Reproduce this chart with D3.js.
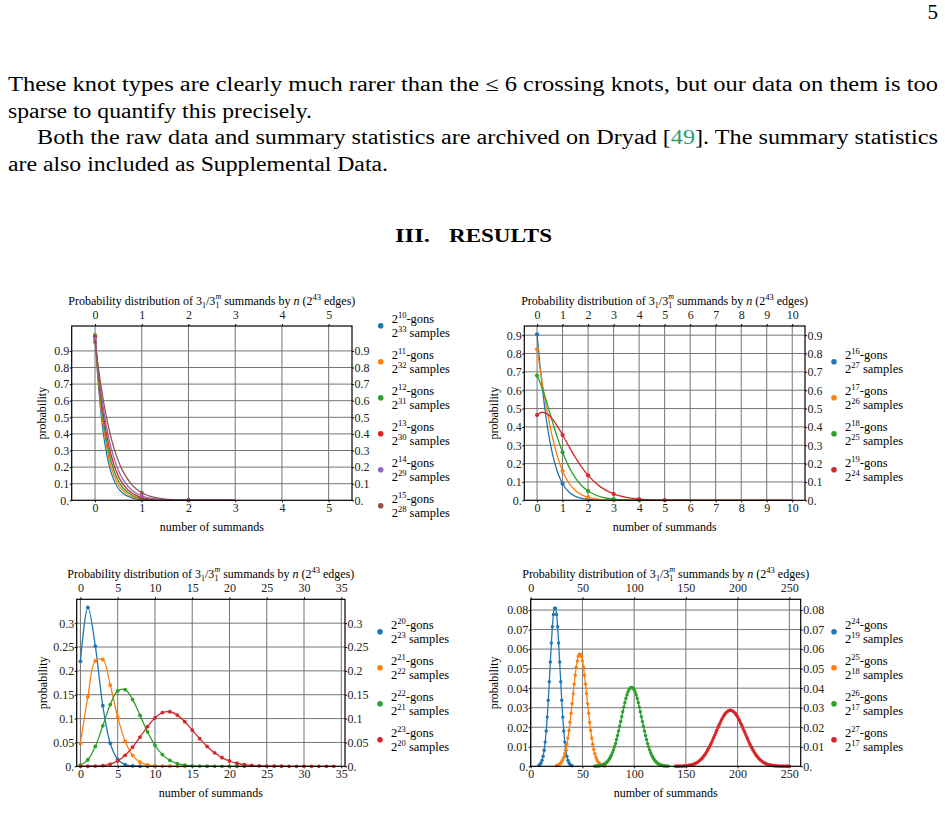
<!DOCTYPE html>
<html>
<head>
<meta charset="utf-8">
<script src="https://cdn.jsdelivr.net/npm/d3@7"></script>
<style>
  body { margin: 0; background: #fff; }
  svg { display: block; }
  svg text { font-family: "Liberation Serif", "Times New Roman", serif; }
</style>
</head>
<body>
<svg id="page" width="945" height="833"></svg>
<script>
// ---- data: panel 1 (2^10 .. 2^15 gons) ----
const p1XTicks = [0, 1, 2, 3, 4, 5];
const p1YTicks = [0, 0.1, 0.2, 0.3, 0.4, 0.5, 0.6, 0.7, 0.8, 0.9];
const p1Gons = ["10", "11", "12", "13", "14", "15"];
const p1Samples = ["33", "32", "31", "30", "29", "28"];
// measured points at n = 0, 1, 2
const p1Dots = [
  [0.996, 0.0040, 0.00001],
  [0.993, 0.0070, 0.00002],
  [0.989, 0.0109, 0.00006],
  [0.983, 0.0167, 0.00014],
  [0.973, 0.0263, 0.00036],
  [0.953, 0.0457, 0.0011]
];
// fitted curve
const p1CurveX = [0, 0.05, 0.1, 0.15, 0.2, 0.3, 0.4, 0.5, 0.6, 0.8, 1, 1.25, 1.5, 2, 2.5, 3];
const p1Curves = [
  [0.996, 0.776, 0.603, 0.466, 0.360, 0.212, 0.123, 0.0711, 0.0406, 0.0129, 0.0040, 0.0009, 0.0002, 0.00001, 0, 0],
  [0.993, 0.796, 0.636, 0.506, 0.401, 0.250, 0.154, 0.0938, 0.0566, 0.0201, 0.0070, 0.0018, 0.0004, 0.00002, 0, 0],
  [0.989, 0.811, 0.662, 0.539, 0.437, 0.285, 0.183, 0.117, 0.074, 0.0288, 0.0109, 0.0031, 0.0009, 0.00006, 0, 0],
  [0.983, 0.824, 0.687, 0.572, 0.474, 0.323, 0.217, 0.145, 0.0954, 0.0405, 0.0167, 0.0053, 0.0016, 0.00014, 0.00003, 0],
  [0.973, 0.835, 0.713, 0.607, 0.515, 0.367, 0.259, 0.180, 0.125, 0.0581, 0.0263, 0.0094, 0.0033, 0.00036, 0.00009, 0],
  [0.953, 0.841, 0.739, 0.648, 0.565, 0.427, 0.319, 0.236, 0.1725, 0.0902, 0.0457, 0.0189, 0.0075, 0.0011, 0.0004, 0.00002]
];

// ---- data: panel 2 (2^16 .. 2^19 gons) ----
const p2XTicks = [0, 1, 2, 3, 4, 5, 6, 7, 8, 9, 10];
const p2YTicks = [0, 0.1, 0.2, 0.3, 0.4, 0.5, 0.6, 0.7, 0.8, 0.9];
const p2Gons = ["16", "17", "18", "19"];
const p2Samples = ["27", "26", "25", "24"];
const p2Dots = [
  [0.905, 0.0905, 0.0045],
  [0.823, 0.160, 0.0156, 0.0010],
  [0.680, 0.262, 0.0504, 0.0065, 0.0006],
  [0.465, 0.356, 0.136, 0.0347, 0.0066, 0.0010]
];
const p2CurveX = [0, 0.2, 0.4, 0.6, 0.8, 1, 1.25, 1.5, 1.75, 2, 2.5, 3, 3.5, 4, 5, 6, 8, 10];
const p2Curves = [
  [0.905, 0.622, 0.406, 0.254, 0.154, 0.0905, 0.0449, 0.0215, 0.0100, 0.0045, 0.0009, 0.00015, 0.00002, 0, 0, 0, 0, 0],
  [0.823, 0.646, 0.482, 0.345, 0.239, 0.160, 0.094, 0.0533, 0.0293, 0.0156, 0.0042, 0.0010, 0.0002, 0.00005, 0, 0, 0, 0],
  [0.680, 0.612, 0.524, 0.430, 0.340, 0.262, 0.182, 0.122, 0.0796, 0.0504, 0.0188, 0.0065, 0.0021, 0.0006, 0.00005, 0, 0, 0],
  [0.465, 0.480, 0.471, 0.4435, 0.403, 0.356, 0.294, 0.234, 0.181, 0.136, 0.0717, 0.0347, 0.0157, 0.0066, 0.0010, 0.00013, 0, 0]
];

// ---- data: panel 3 (2^20 .. 2^23 gons), n = 0, 1, 2, ... ----
const p3XTicks = [0, 5, 10, 15, 20, 25, 30, 35];
const p3YTicks = [0, 0.05, 0.1, 0.15, 0.2, 0.25, 0.3];
const p3Gons = ["20", "21", "22", "23"];
const p3Samples = ["23", "22", "21", "20"];
const p3Dots = [
  [0.220, 0.333, 0.252, 0.127, 0.0483, 0.0146, 0.0037, 0.0008, 0.00015, 0.00003, 0],
  [0.0478, 0.1453, 0.2209, 0.2238, 0.1701, 0.1034, 0.0524, 0.0228, 0.0087, 0.0029, 0.0009, 0.0002, 0.00006, 0.00001, 0],
  [0.0022, 0.0137, 0.0417, 0.0849, 0.1294, 0.1579, 0.1605, 0.1399, 0.1067, 0.0723, 0.0441, 0.0245, 0.0124, 0.0058,
   0.0025, 0.0010, 0.0004, 0.0001, 0.00005, 0, 0, 0, 0],
  [0.000005, 0.00006, 0.0004, 0.0015, 0.0047, 0.0113, 0.0231, 0.0402, 0.0613, 0.0831, 0.1014, 0.1124, 0.1143, 0.1073,
   0.0935, 0.0760, 0.0580, 0.0416, 0.0282, 0.0181, 0.0111, 0.0064, 0.0036, 0.0019, 0.0010, 0.0005, 0.0002, 0.0001,
   0.00004, 0.00002, 0.00001, 0, 0, 0, 0]
];

// ---- data: panel 4 (2^24 .. 2^27 gons), first n of each run + values ----
const p4XTicks = [0, 50, 100, 150, 200, 250];
const p4YTicks = [0, 0.01, 0.02, 0.03, 0.04, 0.05, 0.06, 0.07, 0.08];
const p4Gons = ["24", "25", "26", "27"];
const p4Samples = ["19", "18", "17", "17"];
const p4Start = [8, 25, 62, 140];
const p4Dots = [
  [0.0005, 0.0010, 0.0018, 0.0031, 0.0052, 0.0082, 0.0124, 0.0181, 0.0252, 0.0338, 0.0433, 0.0534, 0.0631, 0.0715,
   0.0777, 0.0810, 0.0810, 0.0777, 0.0715, 0.0631, 0.0534, 0.0433, 0.0338, 0.0252, 0.0181, 0.0124, 0.0082, 0.0052,
   0.0031, 0.0018, 0.0010, 0.0005, 0.0003],
  [0.0003, 0.0005, 0.0007, 0.0011, 0.0016, 0.0024, 0.0034, 0.0047, 0.0064, 0.0086, 0.0113, 0.0145, 0.0183, 0.0225,
   0.0271, 0.0321, 0.0371, 0.0420, 0.0466, 0.0507, 0.0540, 0.0563, 0.0574, 0.0574, 0.0563, 0.0540, 0.0507, 0.0466,
   0.0420, 0.0371, 0.0321, 0.0271, 0.0225, 0.0183, 0.0145, 0.0113, 0.0086, 0.0064, 0.0047, 0.0034, 0.0024, 0.0016,
   0.0011, 0.0007, 0.0005, 0.0003, 0.0002, 0.0001],
  [0.0001, 0.0001, 0.0001, 0.0002, 0.0002, 0.0003, 0.0005, 0.0006, 0.0008, 0.0011, 0.0014, 0.0018, 0.0023, 0.0030,
   0.0037, 0.0046, 0.0057, 0.0069, 0.0084, 0.0100, 0.0117, 0.0137, 0.0158, 0.0181, 0.0205, 0.0229, 0.0254, 0.0279,
   0.0303, 0.0326, 0.0347, 0.0365, 0.0380, 0.0392, 0.0400, 0.0404, 0.0404, 0.0400, 0.0392, 0.0380, 0.0365, 0.0347,
   0.0326, 0.0303, 0.0279, 0.0254, 0.0229, 0.0205, 0.0181, 0.0158, 0.0137, 0.0117, 0.0100, 0.0084, 0.0069, 0.0057,
   0.0046, 0.0037, 0.0030, 0.0023, 0.0018, 0.0014, 0.0011, 0.0008, 0.0006, 0.0005, 0.0003, 0.0002, 0.0002, 0.0001,
   0.0001, 0.0001],
  [0, 0, 0, 0, 0.0001, 0.0001, 0.0001, 0.0001, 0.0002, 0.0002, 0.0002, 0.0003, 0.0004, 0.0005, 0.0006, 0.0007,
   0.0008, 0.0010, 0.0012, 0.0014, 0.0017, 0.0020, 0.0024, 0.0028, 0.0032, 0.0038, 0.0043, 0.0050, 0.0057, 0.0065,
   0.0073, 0.0082, 0.0092, 0.0102, 0.0113, 0.0124, 0.0136, 0.0148, 0.0160, 0.0173, 0.0185, 0.0198, 0.0210, 0.0221,
   0.0233, 0.0243, 0.0253, 0.0261, 0.0269, 0.0275, 0.0280, 0.0284, 0.0286, 0.0287, 0.0286, 0.0284, 0.0280, 0.0275,
   0.0269, 0.0261, 0.0253, 0.0243, 0.0233, 0.0221, 0.0210, 0.0198, 0.0185, 0.0173, 0.0160, 0.0148, 0.0136, 0.0124,
   0.0113, 0.0102, 0.0092, 0.0082, 0.0073, 0.0065, 0.0057, 0.0050, 0.0043, 0.0038, 0.0032, 0.0028, 0.0024, 0.0020,
   0.0017, 0.0014, 0.0012, 0.0010, 0.0008, 0.0007, 0.0006, 0.0005, 0.0004, 0.0003, 0.0002, 0.0002, 0.0002, 0.0001,
   0.0001, 0.0001, 0.0001, 0.0001, 0, 0, 0, 0, 0, 0, 0]
];

const colors = d3.schemeCategory10;
const svg = d3.select("#page");

// ---- page text ----
function line(x, y, w, str) {
  return svg.append("text").attr("x", x).attr("y", y).attr("font-size", 20.5)
    .attr("textLength", w).attr("lengthAdjust", "spacingAndGlyphs").text(str);
}
svg.append("text").attr("x", 938).attr("y", 19).attr("text-anchor", "end")
  .attr("font-size", 21).text("5");
line(8, 91, 930, "These knot types are clearly much rarer than the \u2264 6 crossing knots, but our data on them is too");
line(8, 117.5, 304, "sparse to quantify this precisely.");
const l3 = svg.append("text").attr("x", 37).attr("y", 144).attr("font-size", 20.5)
  .attr("textLength", 901).attr("lengthAdjust", "spacingAndGlyphs");
l3.append("tspan").text("Both the raw data and summary statistics are archived on Dryad [");
l3.append("tspan").attr("fill", "#2e9c6a").text("49");
l3.append("tspan").text("]. The summary statistics");
line(8, 170.5, 380, "are also included as Supplemental Data.");
svg.append("text").attr("x", 395).attr("y", 241.5).attr("font-size", 19).attr("font-weight", "bold")
  .attr("textLength", 35).attr("lengthAdjust", "spacingAndGlyphs").text("III.");
svg.append("text").attr("x", 449).attr("y", 241.5).attr("font-size", 19).attr("font-weight", "bold")
  .attr("textLength", 103).attr("lengthAdjust", "spacingAndGlyphs").text("RESULTS");

// ---- panels ----
const fmt = d => d === 0 ? "0." : String(+d.toFixed(3));

function addTitle(g, cx, y) {
  const t = g.append("text").attr("x", cx).attr("y", y).attr("text-anchor", "middle").attr("font-size", 12);
  t.append("tspan").text("Probability distribution of 3");
  t.append("tspan").attr("font-size", 8).attr("dy", 3.5).text("1");
  t.append("tspan").attr("dy", -3.5).text("/3");
  t.append("tspan").attr("font-size", 8).attr("dy", 3.5).text("1");
  t.append("tspan").attr("font-size", 8).attr("font-style", "italic").attr("dx", -4).attr("dy", -9.5).text("m");
  t.append("tspan").attr("dy", 6).text(" summands by ");
  t.append("tspan").attr("font-style", "italic").text("n");
  t.append("tspan").text(" (2");
  t.append("tspan").attr("font-size", 8.5).attr("dy", -5).text("43");
  t.append("tspan").attr("dy", 5).text(" edges)");
}

function supText(g, x, y, base, sup, tail) {
  const t = g.append("text").attr("x", x).attr("y", y).attr("font-size", 12.5);
  t.append("tspan").text(base);
  t.append("tspan").attr("font-size", 8.5).attr("dy", -5).text(sup);
  t.append("tspan").attr("dy", 5).text(tail);
}

function drawPanel(p, idx) {
  const g = svg.append("g");
  const x = d3.scaleLinear().domain(p.xDomain).range([p.left, p.right]);
  const y = d3.scaleLinear().domain(p.yDomain).range([p.bottom, p.top]);

  // grid
  g.append("g").selectAll("line").data(p.xTicks).join("line")
    .attr("x1", d => x(d)).attr("x2", d => x(d)).attr("y1", p.top).attr("y2", p.bottom)
    .attr("stroke", "#747474").attr("stroke-width", 1);
  g.append("g").selectAll("line").data(p.yTicks.filter(d => d > 0)).join("line")
    .attr("x1", p.left).attr("x2", p.right).attr("y1", d => y(d)).attr("y2", d => y(d))
    .attr("stroke", "#747474").attr("stroke-width", 1);

  // axes on all four sides
  const axes = [
    [d3.axisBottom(x).tickValues(p.xTicks).tickFormat(d3.format("d")).tickSize(2).tickPadding(1), `translate(0,${p.bottom})`],
    [d3.axisTop(x).tickValues(p.xTicks).tickFormat(d3.format("d")).tickSize(2).tickPadding(5), `translate(0,${p.top})`],
    [d3.axisLeft(y).tickValues(p.yTicks).tickFormat(fmt).tickSize(2).tickPadding(0.5), `translate(${p.left},0)`],
    [d3.axisRight(y).tickValues(p.yTicks).tickFormat(fmt).tickSize(2).tickPadding(0.5), `translate(${p.right},0)`]
  ];
  axes.forEach(([ax, tr]) => {
    const a = g.append("g").attr("transform", tr).call(ax);
    a.attr("font-family", null).attr("font-size", 12);
    a.select(".domain").remove();
    a.selectAll("text").attr("fill", "#222");
  });

  // series
  const clipId = "clip" + idx;
  g.append("clipPath").attr("id", clipId).append("rect")
    .attr("x", p.left).attr("y", p.top - 4).attr("width", p.right - p.left).attr("height", p.bottom - p.top + 8);
  const plot = g.append("g").attr("clip-path", `url(#${clipId})`);
  const lineGen = d3.line().x(d => x(d[0])).y(d => y(d[1])).curve(p.curve);
  p.series.forEach((s, i) => {
    plot.append("path").datum(s.curve).attr("d", lineGen)
      .attr("fill", "none").attr("stroke", colors[i]).attr("stroke-width", 1.3);
    plot.append("g").selectAll("circle").data(s.dots).join("circle")
      .attr("cx", d => x(d[0])).attr("cy", d => y(d[1])).attr("r", p.r).attr("fill", colors[i]);
  });

  // frame
  g.append("rect").attr("x", p.left).attr("y", p.top)
    .attr("width", p.right - p.left).attr("height", p.bottom - p.top)
    .attr("fill", "none").attr("stroke", "#000").attr("stroke-width", 1.2);

  // labels
  const cx = (p.left + p.right) / 2;
  addTitle(g, cx, p.top - 21.5);
  g.append("text").attr("x", cx).attr("y", p.bottom + 30.7).attr("text-anchor", "middle")
    .attr("font-size", 12).text("number of summands");
  g.append("text").attr("transform", `translate(${p.yLabX},${(p.top + p.bottom) / 2}) rotate(-90)`)
    .attr("text-anchor", "middle").attr("font-size", 12).text("probability");

  // legend
  p.gons.forEach((gn, i) => {
    const cy = p.legY + i * 36;
    g.append("circle").attr("cx", p.legX).attr("cy", cy).attr("r", 2.8).attr("fill", colors[i]);
    supText(g, p.legX + 11, cy - 2.5, "2", gn, "-gons");
    supText(g, p.legX + 11, cy + 11, "2", p.samples[i], " samples");
  });
}

const panels = [
  {
    left: 71.7, right: 352, top: 326, bottom: 500.3, xDomain: [-0.5, 5.5], yDomain: [0, 1.05],
    xTicks: p1XTicks, yTicks: p1YTicks, gons: p1Gons, samples: p1Samples,
    legX: 380.7, legY: 325.7, yLabX: 46, r: 2, curve: d3.curveMonotoneX,
    series: p1Dots.map((dots, i) => ({
      dots: dots.map((v, k) => [k, v]),
      curve: p1CurveX.map((cx, k) => [cx, p1Curves[i][k]])
    }))
  },
  {
    left: 524.3, right: 805, top: 326, bottom: 500.3, xDomain: [-0.5, 10.5], yDomain: [0, 0.95],
    xTicks: p2XTicks, yTicks: p2YTicks, gons: p2Gons, samples: p2Samples,
    legX: 834, legY: 361.7, yLabX: 498, r: 2.1, curve: d3.curveMonotoneX,
    series: p2Dots.map((dots, i) => ({
      dots: dots.map((v, k) => [k, v]),
      curve: p2CurveX.map((cx, k) => [cx, p2Curves[i][k]])
    }))
  },
  {
    left: 76.7, right: 345, top: 599.3, bottom: 766.3, xDomain: [-0.5, 35.5], yDomain: [0, 0.35],
    xTicks: p3XTicks, yTicks: p3YTicks, gons: p3Gons, samples: p3Samples,
    legX: 380, legY: 631.7, yLabX: 46.5, r: 1.9, curve: d3.curveCatmullRom,
    series: p3Dots.map(dots => {
      const pts = dots.map((v, k) => [k, v]);
      return { dots: pts, curve: pts };
    })
  },
  {
    left: 530.7, right: 800.7, top: 599.3, bottom: 766.3, xDomain: [0, 261], yDomain: [0, 0.0855],
    xTicks: p4XTicks, yTicks: p4YTicks, gons: p4Gons, samples: p4Samples,
    legX: 834, legY: 631.7, yLabX: 498, r: 1.7, curve: d3.curveCatmullRom,
    series: p4Dots.map((dots, i) => {
      const pts = dots.map((v, k) => [p4Start[i] + k, v]);
      return { dots: pts, curve: pts };
    })
  }
];

panels.forEach(drawPanel);
</script>
</body>
</html>
